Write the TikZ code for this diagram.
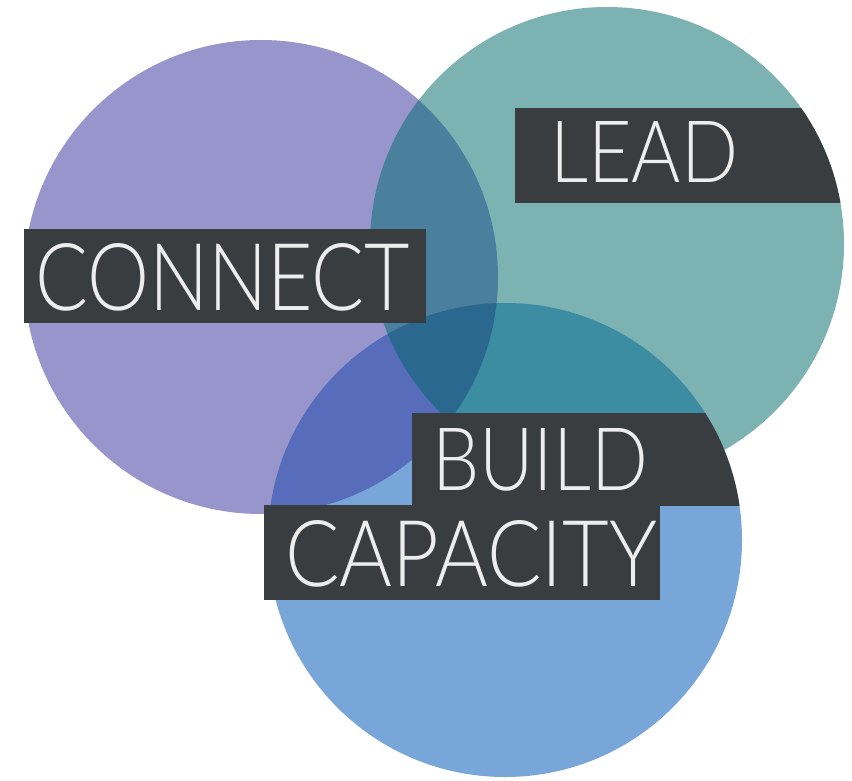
\documentclass[tikz,border=0pt]{standalone}
\usepackage{fontspec}
\usepackage{graphicx}
\newfontfamily\labelfont{Lato Light}
\definecolor{connectcol}{HTML}{9894CC}
\definecolor{leadcol}{HTML}{7CB2B2}
\definecolor{buildcol}{HTML}{78A6D8}
\definecolor{cl}{HTML}{4A809E}
\definecolor{cb}{HTML}{586CBC}
\definecolor{lb}{HTML}{3C8CA2}
\definecolor{clb}{HTML}{2A6890}
\definecolor{boxcol}{HTML}{3A3D40}
\definecolor{textcol}{HTML}{EDEDED}
\tikzset{labelbox/.style={fill=boxcol},
  labeltext/.style={text=textcol, inner sep=0pt, anchor=base west,
    font=\labelfont\fontsize{88}{88}\selectfont}}
\newcommand{\fitlabel}[3]{\resizebox{#1pt}{#2pt}{#3}}

\begin{document}
\begin{tikzpicture}[x=1pt, y=-1pt]
    \useasboundingbox (0,0) rectangle (852,781);
    \def\rad{237pt}
    \coordinate (P) at (261,277);
    \coordinate (T) at (607,244);
    \coordinate (B) at (505,540);
    % the three circles
    \fill[connectcol] (P) circle (\rad);
    \fill[leadcol] (T) circle (\rad);
    \fill[buildcol] (B) circle (\rad);
    % overlaps
    \begin{scope}
      \clip (P) circle (\rad);
      \fill[cl] (T) circle (\rad);
      \fill[cb] (B) circle (\rad);
    \end{scope}
    \begin{scope}
      \clip (T) circle (\rad);
      \fill[lb] (B) circle (\rad);
      \clip (P) circle (\rad);
      \fill[clb] (B) circle (\rad);
    \end{scope}
    % label boxes
    \fill[labelbox] (24,229) rectangle (426,323);
    \begin{scope}
      \clip (T) circle (\rad);
      \fill[labelbox] (515,108) rectangle (860,203);
    \end{scope}
    \begin{scope}
      \clip (B) circle (\rad);
      \fill[labelbox] (412,413) rectangle (760,506);
    \end{scope}
    \fill[labelbox] (264,505) rectangle (660,600);
    % labels
    \node[labeltext] (connect) at (35,310) {\fitlabel{375}{67}{CONNECT}};
    \node[labeltext] (lead) at (550,183) {\fitlabel{188}{61}{LEAD}};
    \node[labeltext] (build) at (432,490) {\fitlabel{216}{62}{BUILD}};
    \node[labeltext] (capacity) at (285,586) {\fitlabel{372}{66}{CAPACITY}};
\end{tikzpicture}
\end{document}
